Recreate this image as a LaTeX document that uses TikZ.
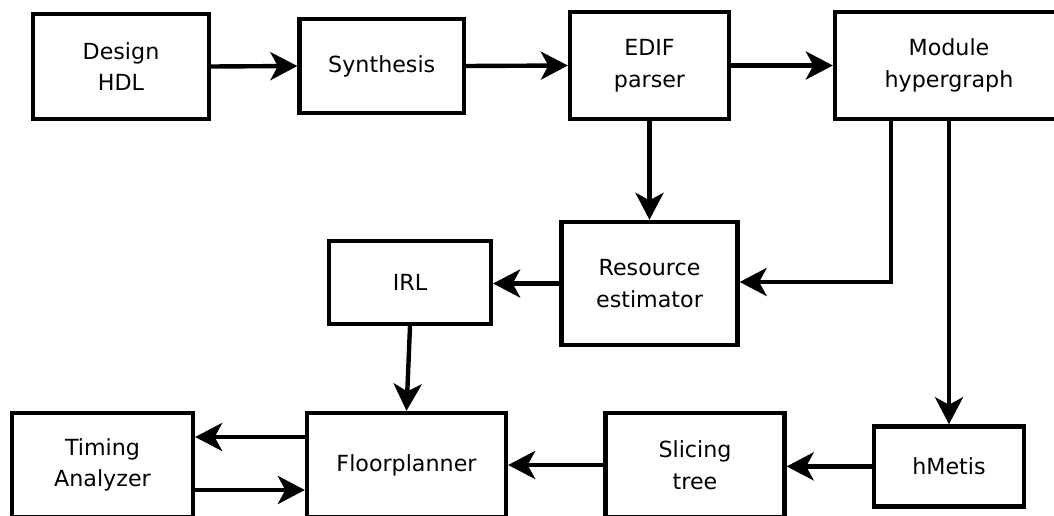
\documentclass[tikz,border=0pt]{standalone}
\usepackage{fontspec}
\setmainfont{DejaVu Sans}
\usetikzlibrary{arrows.meta}
\tikzset{
  block/.style={draw=black, line width=4.3pt, rectangle, inner sep=0pt,
    align=center, font=\fontsize{22.2}{31.5}\selectfont},
  flow/.style={line width=4.4pt,
    -{Stealth[length=27pt,width=28pt,inset=7.5pt]}}
}
\begin{document}
\begin{tikzpicture}[x=1pt,y=-1pt]
  \useasboundingbox (0,0) rectangle (1054,516);
  \clip (0,0) rectangle (1054,516);
  \fill[white] (0,0) rectangle (1054,516);

  % top row
  \node[block, minimum width=176pt, minimum height=105pt] (design) at (121,66.5) {Design\\HDL};
  \node[block, minimum width=164.5pt, minimum height=94pt] (synth) at (381.75,66) {Synthesis};
  \node[block, minimum width=159pt, minimum height=107pt] (edif) at (649.5,65.5) {EDIF\\parser};
  \node[block, minimum width=228pt, minimum height=107pt] (module) at (949,65.5) {Module\\hypergraph};

  % middle row
  \node[block, minimum width=162pt, minimum height=83pt] (irl) at (410,282.5) {IRL};
  \node[block, minimum width=176pt, minimum height=123pt] (res) at (649.5,283.5) {Resource\\estimator};

  % bottom row
  \node[block, minimum width=181pt, minimum height=104pt] (timing) at (102.5,465) {Timing\\Analyzer};
  \node[block, minimum width=199pt, minimum height=104pt] (floor) at (406.5,465) {Floorplanner};
  \node[block, minimum width=179pt, minimum height=104pt] (slicing) at (695,465) {Slicing\\tree};
  \node[block, minimum width=150pt, minimum height=80pt] (hmetis) at (949,466.4) {hMetis};

  % connectors
  \draw[flow] (design.east) -- (synth.west);
  \draw[flow] (synth.east) -- (edif.west);
  \draw[flow] (edif.east) -- (module.west);
  \draw[flow] (edif.south) -- (res.north);
  \draw[flow] ([xshift=-58pt]module.south) |- ([yshift=1.5pt]res.east);
  \draw[flow] (module.south) -- (hmetis.north);
  \draw[flow] (res.west) -- (res.west -| irl.east);
  \draw[flow] (irl.south) -- (floor.north);
  \draw[flow] (hmetis.west) -- (hmetis.west -| slicing.east);
  \draw[flow] (slicing.west) -- (floor.east);
  \draw[flow] ([yshift=28pt]floor.west) -- ([yshift=28pt]timing.east);
  \draw[flow] ([yshift=-25pt]timing.east) -- ([yshift=-25pt]floor.west);
\end{tikzpicture}
\end{document}
